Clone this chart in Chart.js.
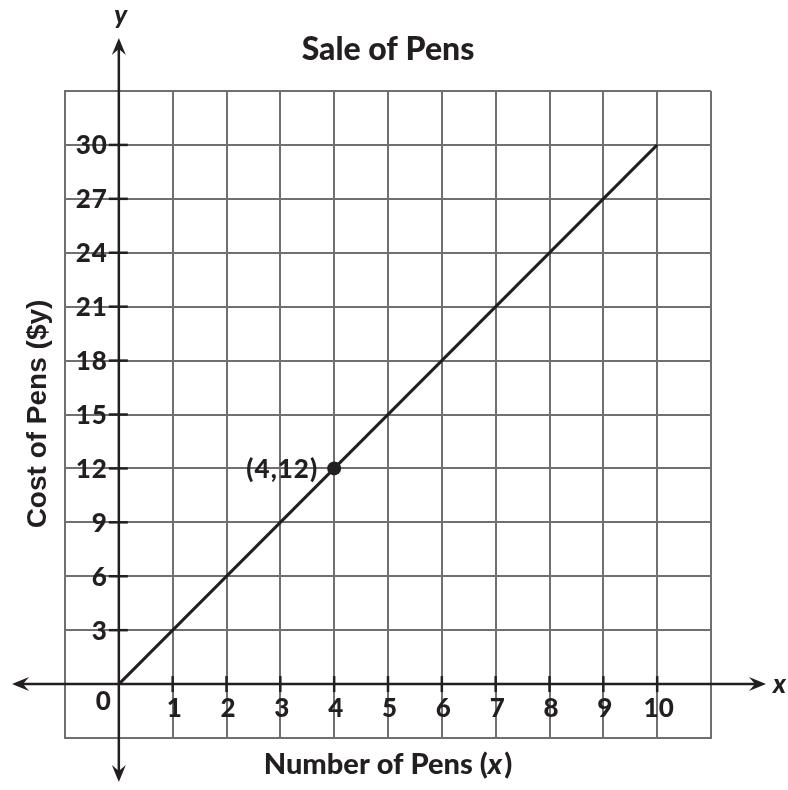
<!DOCTYPE html>
<html>
<head>
<meta charset="utf-8">
<script src="https://cdn.jsdelivr.net/npm/chart.js@4/dist/chart.umd.min.js"></script>
<style>
html,body{margin:0;padding:0;background:#fff;}
#wrap{width:788px;height:790px;position:relative;}
</style>
</head>
<body>
<div id="wrap"><canvas id="c" width="788" height="790"></canvas></div>
<script>
// Data
const lineX = [0, 10];
const lineY = [0, 30];
const pointX = [4];
const pointY = [12];
const pointLabels = ['(4,12)'];
const xTickValues = [1, 2, 3, 4, 5, 6, 7, 8, 9, 10];
const xTickLabels = ['1', '2', '3', '4', '5', '6', '7', '8', '9', '10'];
const yTickValues = [3, 6, 9, 12, 15, 18, 21, 24, 27, 30];
const yTickLabels = ['3', '6', '9', '12', '15', '18', '21', '24', '27', '30'];
const titleText = 'Sale of Pens';
const xTitle = 'Number of Pens (';
const yTitle = 'Cost of Pens ($y)';

const INK = '#231f20';
const GRID = '#707070';
const FONT = 'Lato';

const linePts = lineX.map((x, i) => ({x: x, y: lineY[i]}));
const markPts = pointX.map((x, i) => ({x: x, y: pointY[i]}));

const overlay = {
  id: 'overlay',
  afterDraw(chart) {
    const ctx = chart.ctx;
    const xs = chart.scales.x, ys = chart.scales.y;
    const x0 = xs.getPixelForValue(0), y0 = ys.getPixelForValue(0);
    ctx.save();
    ctx.strokeStyle = INK;
    ctx.fillStyle = INK;
    ctx.lineWidth = 2.5;
    // x axis
    const xl = 12, xr = 766;
    ctx.beginPath(); ctx.moveTo(xl + 4, y0); ctx.lineTo(xr - 4, y0); ctx.stroke();
    // y axis
    const yt = 38, yb = 782;
    ctx.beginPath(); ctx.moveTo(x0, yt + 4); ctx.lineTo(x0, yb - 4); ctx.stroke();
    function arrow(tx, ty, dx, dy) {
      const L = 17, W = 7, n = 6;
      const px = -dy, py = dx;
      ctx.beginPath();
      ctx.moveTo(tx, ty);
      ctx.lineTo(tx - dx * L + px * W, ty - dy * L + py * W);
      ctx.lineTo(tx - dx * (L - n), ty - dy * (L - n));
      ctx.lineTo(tx - dx * L - px * W, ty - dy * L - py * W);
      ctx.closePath();
      ctx.fill();
    }
    arrow(xr, y0, 1, 0);
    arrow(xl, y0, -1, 0);
    arrow(x0, yt, 0, -1);
    arrow(x0, yb, 0, 1);
    // tick marks
    xTickValues.forEach(v => {
      const px = xs.getPixelForValue(v);
      ctx.beginPath(); ctx.moveTo(px, y0 - 8); ctx.lineTo(px, y0 + 8); ctx.stroke();
    });
    yTickValues.forEach(v => {
      const py = ys.getPixelForValue(v);
      ctx.beginPath(); ctx.moveTo(x0 - 10, py); ctx.lineTo(x0 + 9, py); ctx.stroke();
    });
    // tick labels
    ctx.font = '900 26px ' + FONT;
    ctx.textBaseline = 'middle';
    ctx.textAlign = 'center';
    xTickValues.forEach((v, i) => {
      ctx.fillText(xTickLabels[i], xs.getPixelForValue(v) + 1.5, y0 + 25);
    });
    ctx.textAlign = 'right';
    ctx.letterSpacing = '1px';
    yTickValues.forEach((v, i) => {
      ctx.fillText(yTickLabels[i], x0 - 11, ys.getPixelForValue(v) + 1);
    });
    ctx.letterSpacing = '0px';
    ctx.fillText('0', x0 - 8, y0 + 18);
    // axis letters
    ctx.font = 'italic 900 26px ' + FONT;
    ctx.textAlign = 'center';
    ctx.fillText('y', x0 + 2, 16);
    ctx.textAlign = 'left';
    ctx.fillText('x', 773, y0 + 1);
    // title
    ctx.textAlign = 'center';
    ctx.font = '900 32px ' + FONT;
    ctx.fillText(titleText, (chart.chartArea.left + chart.chartArea.right) / 2, 50);
    // x title
    const f1 = '900 29px ' + FONT, f2 = 'italic 900 29px ' + FONT;
    ctx.font = f1;
    const w1 = ctx.measureText(xTitle).width;
    const w3 = ctx.measureText(')').width;
    ctx.font = f2;
    const w2 = ctx.measureText('x').width;
    const tot = w1 + w2 + w3 + 2;
    let sx = (chart.chartArea.left + chart.chartArea.right) / 2 - tot / 2;
    ctx.textAlign = 'left';
    ctx.font = f1;
    ctx.fillText(xTitle, sx, 765);
    ctx.font = f2;
    ctx.fillText('x', sx + w1, 765);
    ctx.font = f1;
    ctx.fillText(')', sx + w1 + w2 + 2, 765);
    // y title
    ctx.save();
    ctx.translate(38, 414);
    ctx.rotate(-Math.PI / 2);
    ctx.textAlign = 'center';
    ctx.font = 'bold 28px "Liberation Sans"';
    ctx.fillText(yTitle, 0, 0);
    ctx.restore();
    // point labels
    ctx.font = '900 26px ' + FONT;
    ctx.letterSpacing = '1px';
    ctx.textAlign = 'right';
    markPts.forEach((p, i) => {
      ctx.fillText(pointLabels[i], xs.getPixelForValue(p.x) - 16, ys.getPixelForValue(p.y) + 1);
    });
    ctx.restore();
  }
};

new Chart(document.getElementById('c'), {
  type: 'scatter',
  data: {
    datasets: [
      {
        data: linePts,
        showLine: true,
        borderColor: INK,
        borderWidth: 3,
        pointRadius: 0,
        order: 2
      },
      {
        data: markPts,
        showLine: false,
        pointRadius: 7,
        pointBackgroundColor: INK,
        pointBorderColor: INK,
        pointBorderWidth: 0,
        order: 1
      }
    ]
  },
  options: {
    responsive: false,
    animation: false,
    events: [],
    layout: {padding: {left: 65, top: 91, right: 77, bottom: 52}},
    plugins: {legend: {display: false}, tooltip: {enabled: false}, title: {display: false}},
    scales: {
      x: {
        type: 'linear', min: -1, max: 11,
        ticks: {display: false, stepSize: 1},
        grid: {color: GRID, lineWidth: 2, drawTicks: false},
        border: {display: true, color: GRID, width: 2}
      },
      y: {
        type: 'linear', min: -3, max: 33,
        ticks: {display: false, stepSize: 3},
        grid: {color: GRID, lineWidth: 2, drawTicks: false},
        border: {display: true, color: GRID, width: 2}
      }
    }
  },
  plugins: [overlay]
});
</script>
</body>
</html>
